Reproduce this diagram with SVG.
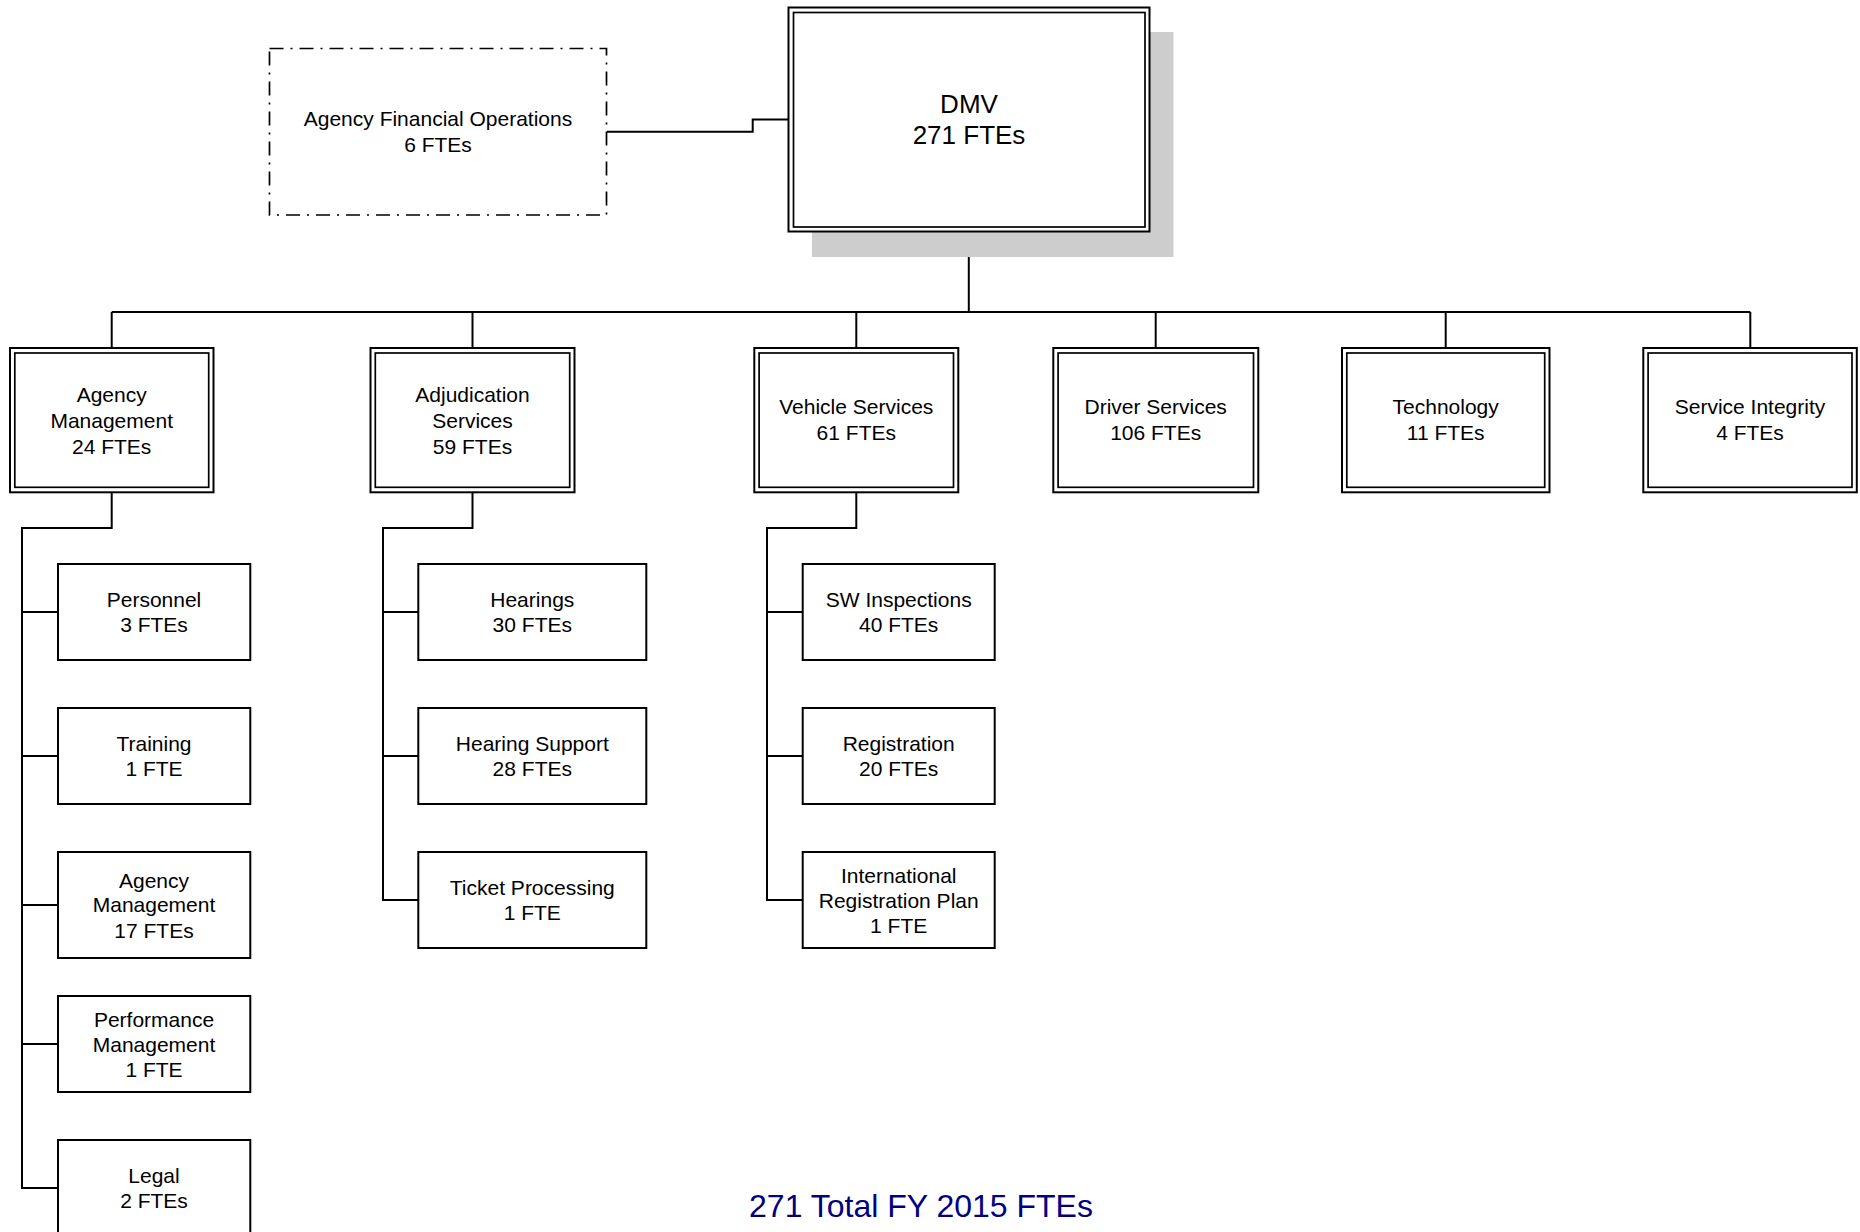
<svg xmlns="http://www.w3.org/2000/svg" width="1860" height="1232" viewBox="0 0 1860 1232">
<style>
  .bg { fill: #ffffff; }
  .box { fill: #ffffff; stroke: #000000; stroke-width: 2; }
  .dbl { fill: none; stroke: #000000; stroke-width: 1.7; }
  .dash { fill: #ffffff; stroke: #000000; stroke-width: 1.7; stroke-dasharray: 14 7 2 7; }
  .shadow { fill: #cdcdcd; stroke: none; }
  .conn { fill: none; stroke: #000000; stroke-width: 2; }
  text { font-family: "Liberation Sans", Arial, sans-serif; fill: #000000; text-anchor: middle; }
  .t { font-size: 21px; }
  .big { font-size: 26px; }
  .total { font-size: 32px; fill: #000080; }
</style>
<rect class="bg" x="0" y="0" width="1860" height="1232"/>

<g id="connectors">
  <polyline class="conn" points="607,131.7 752.7,131.7 752.7,119.5 788.3,119.5"/>
  <line class="conn" x1="968.8" y1="232" x2="968.8" y2="312"/>
  <line class="conn" x1="111.7" y1="312" x2="1750.3" y2="312"/>
  <line class="conn" x1="111.7" y1="312" x2="111.7" y2="348"/>
  <line class="conn" x1="472.5" y1="312" x2="472.5" y2="348"/>
  <line class="conn" x1="856.3" y1="312" x2="856.3" y2="348"/>
  <line class="conn" x1="1155.7" y1="312" x2="1155.7" y2="348"/>
  <line class="conn" x1="1445.7" y1="312" x2="1445.7" y2="348"/>
  <line class="conn" x1="1750.3" y1="312" x2="1750.3" y2="348"/>
  <!-- Agency Management children -->
  <polyline class="conn" points="111.7,492 111.7,528 22,528 22,1188"/>
  <line class="conn" x1="22" y1="612" x2="58" y2="612"/>
  <line class="conn" x1="22" y1="756" x2="58" y2="756"/>
  <line class="conn" x1="22" y1="905" x2="58" y2="905"/>
  <line class="conn" x1="22" y1="1044" x2="58" y2="1044"/>
  <line class="conn" x1="21" y1="1188" x2="58" y2="1188"/>
  <!-- Adjudication children -->
  <polyline class="conn" points="472.5,492 472.5,528 383,528 383,900"/>
  <line class="conn" x1="383" y1="612" x2="418" y2="612"/>
  <line class="conn" x1="383" y1="756" x2="418" y2="756"/>
  <line class="conn" x1="382" y1="900" x2="418" y2="900"/>
  <!-- Vehicle children -->
  <polyline class="conn" points="856.3,492 856.3,528 767,528 767,900"/>
  <line class="conn" x1="767" y1="612" x2="803" y2="612"/>
  <line class="conn" x1="767" y1="756" x2="803" y2="756"/>
  <line class="conn" x1="766" y1="900" x2="803" y2="900"/>
</g>

<g id="afo">
  <rect class="dash" x="269.5" y="48.5" width="337" height="166.5"/>
  <text class="t" x="438" y="126">Agency Financial Operations</text>
  <text class="t" x="438" y="152">6 FTEs</text>
</g>

<g id="dmv">
  <rect class="shadow" x="812" y="32" width="361.5" height="225"/>
  <rect class="box" x="788.5" y="7.5" width="361" height="224"/>
  <rect class="dbl" x="793.5" y="12.5" width="351.5" height="214.5"/>
  <text class="big" x="969" y="112.5">DMV</text>
  <text class="big" x="969" y="144">271 FTEs</text>
</g>

<g id="agency-management">
  <rect class="box" x="10" y="348" width="203.5" height="144.3"/>
  <rect class="dbl" x="14.8" y="353" width="193.9" height="134.3"/>
  <text class="t" x="111.7" y="401.5">Agency</text>
  <text class="t" x="111.7" y="427.5">Management</text>
  <text class="t" x="111.7" y="453.5">24 FTEs</text>
</g>

<g id="adjudication-services">
  <rect class="box" x="370.5" y="348" width="204" height="144.3"/>
  <rect class="dbl" x="375.3" y="353" width="194.4" height="134.3"/>
  <text class="t" x="472.5" y="401.5">Adjudication</text>
  <text class="t" x="472.5" y="427.5">Services</text>
  <text class="t" x="472.5" y="453.5">59 FTEs</text>
</g>

<g id="vehicle-services">
  <rect class="box" x="754.3" y="348" width="204" height="144.3"/>
  <rect class="dbl" x="759.1" y="353" width="194.4" height="134.3"/>
  <text class="t" x="856.3" y="413.5">Vehicle Services</text>
  <text class="t" x="856.3" y="440">61 FTEs</text>
</g>

<g id="driver-services">
  <rect class="box" x="1053.3" y="348" width="205" height="144.3"/>
  <rect class="dbl" x="1058.1" y="353" width="195.4" height="134.3"/>
  <text class="t" x="1155.7" y="413.5">Driver Services</text>
  <text class="t" x="1155.7" y="440">106 FTEs</text>
</g>

<g id="technology">
  <rect class="box" x="1342" y="348" width="207.5" height="144.3"/>
  <rect class="dbl" x="1346.8" y="353" width="197.9" height="134.3"/>
  <text class="t" x="1445.7" y="413.5">Technology</text>
  <text class="t" x="1445.7" y="440">11 FTEs</text>
</g>

<g id="service-integrity">
  <rect class="box" x="1643.3" y="348" width="213.5" height="144.3"/>
  <rect class="dbl" x="1648.1" y="353" width="203.9" height="134.3"/>
  <text class="t" x="1750" y="413.5">Service Integrity</text>
  <text class="t" x="1750" y="440">4 FTEs</text>
</g>

<g id="personnel">
  <rect class="box" x="58" y="564" width="192.3" height="96"/>
  <text class="t" x="154" y="606.5">Personnel</text>
  <text class="t" x="154" y="631.5">3 FTEs</text>
</g>
<g id="training">
  <rect class="box" x="58" y="708" width="192.3" height="96"/>
  <text class="t" x="154" y="750.5">Training</text>
  <text class="t" x="154" y="775.5">1 FTE</text>
</g>
<g id="agency-management-sub">
  <rect class="box" x="58" y="852" width="192.3" height="106"/>
  <text class="t" x="154" y="887.5">Agency</text>
  <text class="t" x="154" y="912">Management</text>
  <text class="t" x="154" y="937.5">17 FTEs</text>
</g>
<g id="performance-management">
  <rect class="box" x="58" y="996" width="192.3" height="96"/>
  <text class="t" x="154" y="1026.5">Performance</text>
  <text class="t" x="154" y="1051.5">Management</text>
  <text class="t" x="154" y="1076.5">1 FTE</text>
</g>
<g id="legal">
  <rect class="box" x="58" y="1140" width="192.3" height="100"/>
  <text class="t" x="154" y="1182.5">Legal</text>
  <text class="t" x="154" y="1207.5">2 FTEs</text>
</g>

<g id="hearings">
  <rect class="box" x="418.3" y="564" width="228" height="96"/>
  <text class="t" x="532.3" y="606.5">Hearings</text>
  <text class="t" x="532.3" y="631.5">30 FTEs</text>
</g>
<g id="hearing-support">
  <rect class="box" x="418.3" y="708" width="228" height="96"/>
  <text class="t" x="532.3" y="750.5">Hearing Support</text>
  <text class="t" x="532.3" y="775.5">28 FTEs</text>
</g>
<g id="ticket-processing">
  <rect class="box" x="418.3" y="852" width="228" height="96"/>
  <text class="t" x="532.3" y="894.5">Ticket Processing</text>
  <text class="t" x="532.3" y="919.5">1 FTE</text>
</g>

<g id="sw-inspections">
  <rect class="box" x="802.7" y="564" width="192" height="96"/>
  <text class="t" x="898.7" y="606.5">SW Inspections</text>
  <text class="t" x="898.7" y="631.5">40 FTEs</text>
</g>
<g id="registration">
  <rect class="box" x="802.7" y="708" width="192" height="96"/>
  <text class="t" x="898.7" y="750.5">Registration</text>
  <text class="t" x="898.7" y="775.5">20 FTEs</text>
</g>
<g id="irp">
  <rect class="box" x="802.7" y="852" width="192" height="96"/>
  <text class="t" x="898.7" y="882.5">International</text>
  <text class="t" x="898.7" y="907.5">Registration Plan</text>
  <text class="t" x="898.7" y="932.5">1 FTE</text>
</g>

<g id="total">
  <text class="total" x="921" y="1217">271 Total FY 2015 FTEs</text>
</g>
</svg>
